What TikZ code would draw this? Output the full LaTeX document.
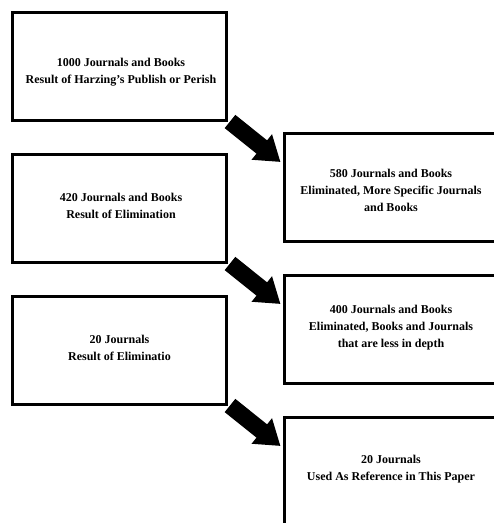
\documentclass[tikz,border=0pt]{standalone}
\usepackage{fontspec}
\setmainfont{Liberation Serif}
\usetikzlibrary{arrows.meta,calc}
\begin{document}
\begin{tikzpicture}[x=1pt,y=-1pt,
 box/.style={draw=black, line width=3pt, minimum width=214pt, minimum height=108pt, inner sep=0pt},
 txt/.style={align=center, font=\fontsize{12}{17}\selectfont\bfseries, text=black, inner sep=0pt},
 bigarrow/.style={line width=17pt, -{Triangle[width=31pt,length=24pt]}}]
\useasboundingbox (0,0) rectangle (494,523);
\clip (0,0) rectangle (494,523);
\fill[white] (0,0) rectangle (494,523);
% left boxes
\node[box] (b1) at (119.5,66) {};
\node[box] (b2) at (119.5,208) {};
\node[box] (b3) at (119.5,350) {};
% right boxes
\node[box] (r1) at (391,187.5) {};
\node[box] (r2) at (391,329.5) {};
\node[box] (r3) at (391,471.5) {};
% texts
\node[txt] (t1) at ($(b1)+(1.5,6)$) {1000 Journals and Books\\Result of Harzing's Publish or Perish};
\node[txt] (t2) at ($(b2)+(1.5,-2)$) {420 Journals and Books\\Result of Elimination};
\node[txt] (t3) at ($(b3)+(0,-2)$) {20 Journals\\Result of Eliminatio};
\node[txt] (t4) at ($(r1)+(0,2.5)$) {580 Journals and Books\\Eliminated, More Specific Journals\\and Books};
\node[txt] (t5) at ($(r2)+(0,-1.5)$) {400 Journals and Books\\Eliminated, Books and Journals\\that are less in depth};
\node[txt] (t6) at ($(r3)+(0,-2.5)$) {20 Journals\\Used As Reference in This Paper};
% arrows
\draw[bigarrow] ($(b1.south east)+(2,0)$) -- ($(r1.north west)+(-2,30)$);
\draw[bigarrow] ($(b2.south east)+(2,0)$) -- ($(r2.north west)+(-2,30)$);
\draw[bigarrow] ($(b3.south east)+(2,0)$) -- ($(r3.north west)+(-2,30)$);
\end{tikzpicture}
\end{document}
